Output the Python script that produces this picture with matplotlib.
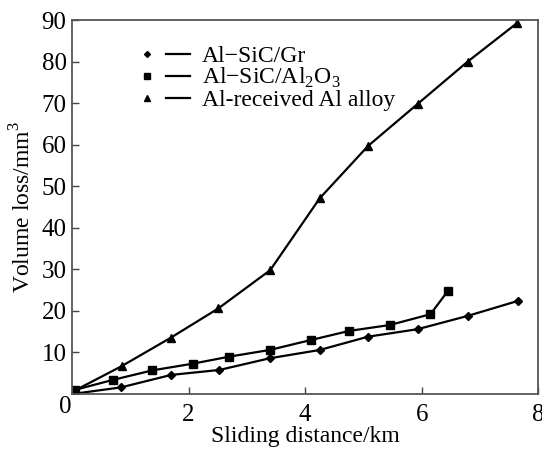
import matplotlib
matplotlib.use("Agg")
import matplotlib.pyplot as plt
from matplotlib.lines import Line2D
from matplotlib.legend_handler import HandlerTuple

plt.rcParams["font.family"] = ["Liberation Serif", "DejaVu Serif"]
plt.rcParams["mathtext.fontset"] = "custom"
plt.rcParams["mathtext.rm"] = "Liberation Serif"

# Al-SiC/Gr
gr_x = [0.0, 0.84, 1.70, 2.53, 3.39, 4.25, 5.08, 5.93, 6.79, 7.65]
gr_y = [0.0, 1.6, 4.6, 5.8, 8.6, 10.6, 13.8, 15.6, 18.8, 22.4]
# Al-SiC/Al2O3
ao_x = [0.05, 0.70, 1.38, 2.07, 2.70, 3.39, 4.10, 4.76, 5.45, 6.15, 6.45]
ao_y = [1.0, 3.4, 5.7, 7.3, 9.0, 10.6, 13.0, 15.2, 16.6, 19.2, 24.8]
# Al-received Al alloy
ar_x = [0.0, 0.85, 1.70, 2.51, 3.40, 4.25, 5.08, 5.93, 6.79, 7.64]
ar_y = [0.5, 6.7, 13.6, 20.6, 29.8, 47.1, 59.7, 69.8, 80.0, 89.3]

labels = ["Al\u2212SiC/Gr", "Al\u2212SiC/Al$_2$O$_3$", "Al-received Al alloy"]
markers = ["D", "s", "^"]
msizes = [4, 6, 6]
x_ticks = [2, 4, 6, 8]
y_ticks = [10, 20, 30, 40, 50, 60, 70, 80, 90]

fig = plt.figure(figsize=(5.42, 4.55), dpi=100)
ax = fig.add_axes([0.133, 0.134, 0.86, 0.822])

series = [(gr_x, gr_y), (ao_x, ao_y), (ar_x, ar_y)]
handles = []
for (xs, ys), m, ms in zip(series, markers, msizes):
    ax.plot(xs, ys, color="black", lw=1.6, marker=m, ms=ms, mfc="black", mec="black")
    mk = Line2D([], [], ls="none", marker=m, ms=ms - 1, color="black")
    ln = Line2D([], [], color="black", lw=1.6)
    handles.append((mk, ln))

ax.set_xlim(0, 8)
ax.set_ylim(0, 90)
ax.set_xticks(x_ticks)
ax.set_yticks(y_ticks)
ax.tick_params(direction="in", length=5, width=1, labelsize=18, colors="#444444",
               labelcolor="black")
ax.tick_params(axis="x", pad=7)
ax.tick_params(axis="y", pad=4)
ax.text(-0.002, -0.005, "0", transform=ax.transAxes, ha="right", va="top", fontsize=18)
for s in ax.spines.values():
    s.set_color("#555555")
    s.set_linewidth(1.3)

ax.set_xlabel("Sliding distance/km", fontsize=17, labelpad=0)
ax.set_ylabel("Volume loss/mm$^3$", fontsize=17, labelpad=4)

ax.legend(handles, labels, handler_map={tuple: HandlerTuple(ndivide=None, pad=0.3)},
          loc="upper left", bbox_to_anchor=(0.116, 0.956), frameon=False, fontsize=17,
          handlelength=2.3, handletextpad=0.5, labelspacing=-0.05, borderaxespad=0)

fig.savefig("out.png", dpi=100)
